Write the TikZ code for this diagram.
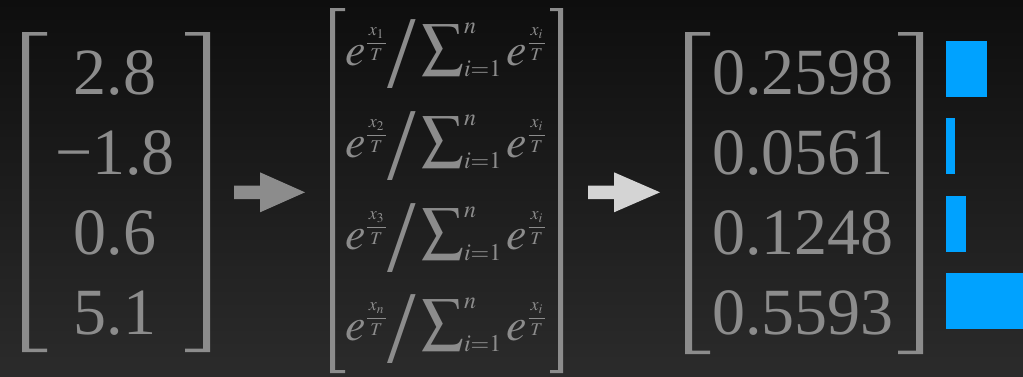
\documentclass[tikz,border=0pt]{standalone}
\usepackage{mathptmx}
\usepackage{graphicx}
\usepackage{fontspec}
\setmainfont{Liberation Serif}
\newfontfamily\numfont{Liberation Serif}
\DeclareMathSizes{46}{46}{24}{18}
\newcommand{\supfrac}[1]{\mbox{\fontsize{18}{18}\selectfont$\displaystyle\frac{\,#1\,}{T}$}}
\newcommand{\bigslash}{\mbox{\raisebox{-22.5pt}{\fontsize{103}{103}\numfont/}}}
\newcommand{\bigsum}{\mathop{\mbox{\scalebox{1.3}{$\sum$}}}\nolimits}
\newcommand{\smrow}[1]{$e^{\supfrac{x_{#1}}}\bigslash\bigsum_{i=1}^{n}e^{\supfrac{x_i}}$}
\definecolor{txtgray}{RGB}{140,140,140}
\definecolor{lightarrow}{RGB}{212,212,212}
\definecolor{barblue}{RGB}{0,162,255}
\definecolor{bgtop}{RGB}{14,14,14}
\definecolor{bgbot}{RGB}{43,43,43}

\begin{document}
\begin{tikzpicture}[x=1pt,y=-1pt,
    num/.style={text=txtgray,inner sep=0pt,anchor=base,font=\fontsize{66}{66}\numfont},
    row/.style={text=txtgray,inner sep=0pt,anchor=base west,font=\fontsize{46}{46}\selectfont},
    brk/.style={fill=txtgray},
    bar/.style={fill=barblue}]
  \useasboundingbox (0,0) rectangle (1023,376);
  \clip (0,0) rectangle (1023,376);
  \shade[top color=bgtop,bottom color=bgbot] (0,0) rectangle (1023,376);

  % input logits
  \fill[brk] (22,32) rectangle (29,352) (22,32) rectangle (47,35.5) (22,348.5) rectangle (47,352);
  \fill[brk] (203,32) rectangle (210,352) (185,32) rectangle (210,35.5) (185,348.5) rectangle (210,352);
  \node[num] (x1) at (115,94) {2.8};
  \node[num] (x2) at (115,174) {−1.8};
  \node[num] (x3) at (115,254) {0.6};
  \node[num] (x4) at (115,334) {5.1};

  \fill[txtgray] (234,185.7) -- (260,185.7) -- (260,172.3) -- (305,192.3)
    -- (260,212.3) -- (260,199) -- (234,199) -- cycle;

  % softmax with temperature
  \fill[brk] (330,8) rectangle (335,373) (330,8) rectangle (345,11) (330,370) rectangle (345,373);
  \fill[brk] (558,8) rectangle (563,373) (550,8) rectangle (563,11) (550,370) rectangle (563,373);
  \node[row] (s1) at (345,65) {\smrow{1}};
  \node[row] (s2) at (345,157) {\smrow{2}};
  \node[row] (s3) at (345,249) {\smrow{3}};
  \node[row] (s4) at (345,340) {\smrow{n}};

  \fill[lightarrow] (588,185.7) -- (614,185.7) -- (614,172.3) -- (660,192.3)
    -- (614,212.3) -- (614,199) -- (588,199) -- cycle;

  % probabilities
  \fill[brk] (685,32) rectangle (692,354) (685,32) rectangle (710,35.5) (685,350.5) rectangle (710,354);
  \fill[brk] (916,32) rectangle (923,354) (898,32) rectangle (923,35.5) (898,350.5) rectangle (923,354);
  \node[num] (p1) at (803,94) {0.2598};
  \node[num] (p2) at (803,174) {0.0561};
  \node[num] (p3) at (803,254) {0.1248};
  \node[num] (p4) at (803,334) {0.5593};

  \foreach \v/\y in {0.2598/41,0.0561/118,0.1248/196,0.5593/273}
    \fill[bar] (946,\y) rectangle ++(158*\v,56);
\end{tikzpicture}
\end{document}
